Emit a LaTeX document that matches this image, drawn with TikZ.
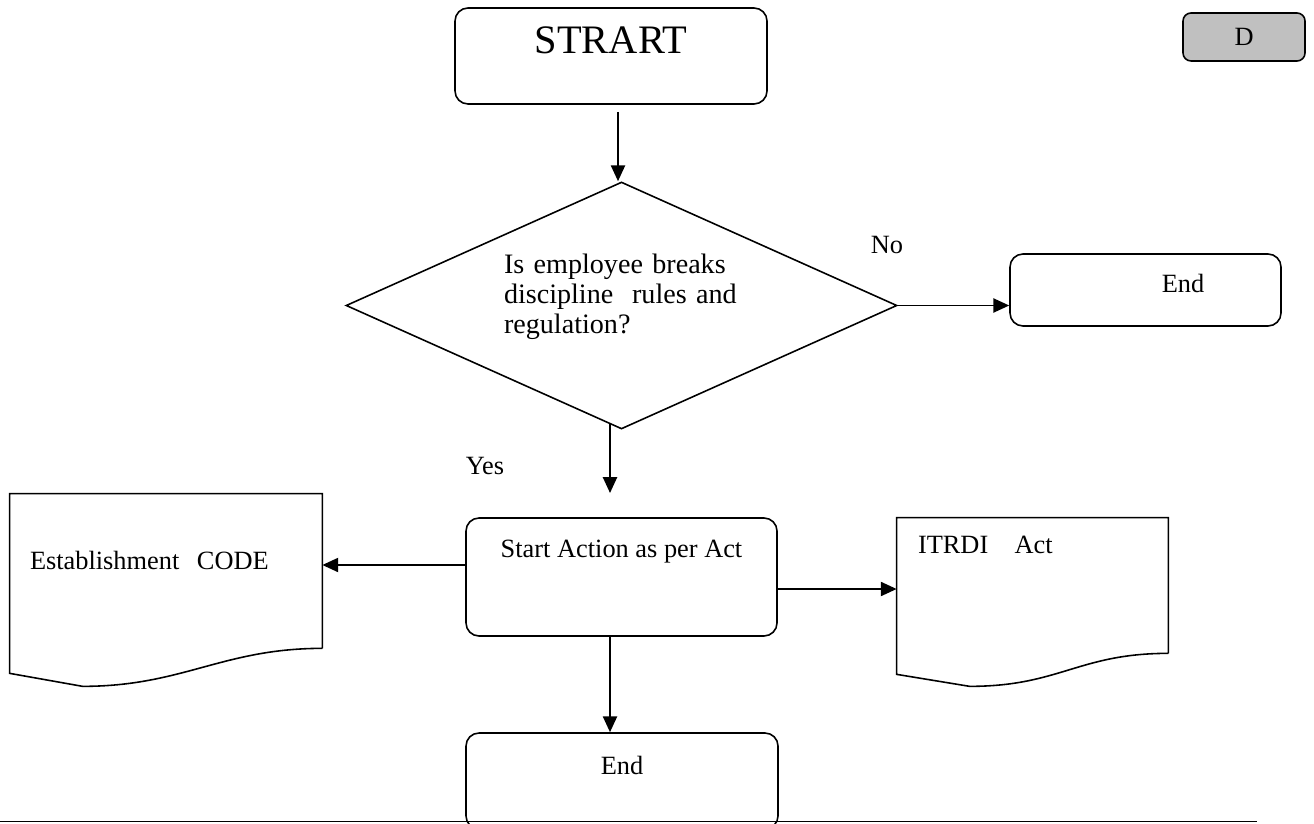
\documentclass[tikz,border=0pt]{standalone}
\usepackage{fontspec}
\setmainfont{Liberation Serif}
\usepackage{tikz}
\definecolor{boxgray}{RGB}{192,192,192}
\usetikzlibrary{shapes.geometric, arrows.meta}

\begin{document}
\begin{tikzpicture}[
	font=\fontsize{15}{18}\selectfont,
	roundbox/.style={draw, line width=0.9pt, rounded corners=0.26cm, inner sep=0pt},
	docbox/.style={inner sep=0pt, align=left},
	docline/.style={line width=0.9pt},
	arr/.style={-{Triangle[length=9pt, width=8pt]}, line width=1.1pt}
	]
	\useasboundingbox (0,0) rectangle (26.28,-16.46);
	\clip (0,0) rectangle (26.28,-16.46);
	
	\node[roundbox, minimum width=6.24cm, minimum height=1.92cm, text height=0.53cm, text depth=0.63cm, font=\fontsize{23}{27}\selectfont] (start) at (12.22,-1.12) {STRART};
	\node[draw, line width=0.9pt, rounded corners=0.16cm, fill=boxgray, minimum width=2.44cm, minimum height=0.96cm] (dbox) at (24.88,-0.74) {D};
	
	\node[draw, diamond, line width=0.9pt, shape aspect=2.23, minimum width=11.02cm, minimum height=4.94cm, inner sep=0pt, text width=4.7cm, align=left, text height=0.4cm, text depth=1.66cm, font=\fontsize{16}{17}\selectfont] (dec) at (12.43,-6.11) {Is employee breaks\\discipline~~rules and\\regulation?};
	
	\node (no) at (17.74,-4.9) {No};
	\node[roundbox, minimum width=5.42cm, minimum height=1.44cm, label={[xshift=0.75cm, yshift=0.14cm]center:End}] (endR) at (22.91,-5.8) {};
	
	\node (yes) at (9.7,-9.32) {Yes};
	\node[roundbox, minimum width=6.22cm, minimum height=2.36cm, text height=0.35cm, text depth=1.15cm] (act) at (12.43,-11.54) {Start Action as per Act};
	
	\node[docbox, text width=5.44cm, inner xsep=0.4cm, text height=1.5cm, text depth=1.58cm] (estab) at (3.32,-11.42) {Establishment~~CODE};
	\node[docbox, text width=4.58cm, inner xsep=0.42cm, text height=0.7cm, text depth=2.0cm] (itrdi) at (20.65,-11.71) {ITRDI\quad Act};
	
	\node[roundbox, minimum width=6.24cm, minimum height=1.92cm, text height=0.35cm, text depth=0.63cm] (endB) at (12.44,-15.62) {End};
	
	% document outlines
	\draw[docline] (estab.south east) -- (estab.north east) -- (estab.north west) -- ([yshift=-0.5cm]estab.south west) -- ++(1.46,-0.26) .. controls +(2,0) and +(-2,0) .. (estab.south east);
	\draw[docline] (itrdi.south east) -- (itrdi.north east) -- (itrdi.north west) -- ([yshift=-0.42cm]itrdi.south west) -- ++(1.46,-0.24) .. controls +(1.8,0) and +(-1.8,0) .. (itrdi.south east);
	
	\coordinate (s1) at (12.36,-2.24);
	\coordinate (y1) at (12.2,-8.46);
	\coordinate (y2) at (12.2,-9.86);
	\coordinate (b1) at (0,-16.43);
	\coordinate (b2) at (25.14,-16.43);
	
	\draw[arr] (s1) -- (s1 |- dec.north);
	\draw[arr] (dec.east) -- (dec.east -| endR.west);
	\draw[arr] (y1) -- (y2);
	\draw[arr] ([yshift=0.24cm]act.west) -- ([yshift=0.24cm]act.west -| estab.east);
	\draw[arr] ([yshift=-0.24cm]act.east) -- ([yshift=-0.24cm]act.east -| itrdi.west);
	\draw[arr] ([xshift=-0.23cm]act.south) -- ([xshift=-0.23cm]act.south |- endB.north);
	
	\draw[line width=0.8pt] (b1) -- (b2);
	
\end{tikzpicture}
\end{document}
